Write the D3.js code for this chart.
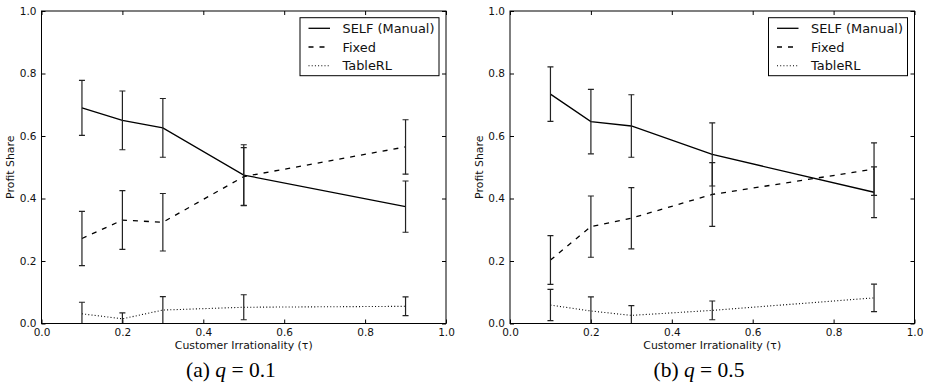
<!DOCTYPE html>
<html>
<head>
<meta charset="utf-8">
<script src="https://cdn.jsdelivr.net/npm/d3@7"></script>
<style>
  body { margin: 0; background: #fff; }
  svg { display: block; }
  .tick text { font-family: "DejaVu Sans", sans-serif; font-size: 10.5px; fill: #111; }
  .lbl { font-family: "DejaVu Sans", sans-serif; font-size: 10.9px; fill: #111; }
  .leg { font-family: "DejaVu Sans", sans-serif; font-size: 12.9px; fill: #111; }
  .cap { font-family: "Liberation Serif", "Times New Roman", serif; font-size: 21.5px; fill: #000; }
</style>
</head>
<body>
<svg width="930" height="385"></svg>
<script>
// customer irrationality values on the x axis
var taus = [0.1, 0.2, 0.3, 0.5, 0.9];
var tickVals = [0, 0.2, 0.4, 0.6, 0.8, 1.0];
var seriesNames = ["SELF (Manual)", "Fixed", "TableRL"];
var captions = ["(a) ", "(b) "];
var qValues = ["0.1", "0.5"];

// (a) q = 0.1
var selfA = [0.690, 0.650, 0.626, 0.475, 0.374];
var selfErrA = [0.088, 0.094, 0.094, 0.097, 0.082];
var fixedA = [0.272, 0.331, 0.324, 0.470, 0.565];
var fixedErrA = [0.087, 0.094, 0.092, 0.093, 0.087];
var tableA = [0.031, 0.015, 0.043, 0.052, 0.055];
var tableErrA = [0.037, 0.019, 0.043, 0.040, 0.030];

// (b) q = 0.5
var selfB = [0.734, 0.646, 0.632, 0.541, 0.420];
var selfErrB = [0.087, 0.103, 0.100, 0.101, 0.081];
var fixedB = [0.203, 0.310, 0.337, 0.413, 0.494];
var fixedErrB = [0.078, 0.098, 0.098, 0.102, 0.084];
var tableB = [0.059, 0.040, 0.026, 0.042, 0.082];
var tableErrB = [0.050, 0.045, 0.031, 0.030, 0.044];

var dashes = [null, "5,6", "1,2.2"];

var panels = [
  {left: 41.5, series: [[selfA, selfErrA], [fixedA, fixedErrA], [tableA, tableErrA]], capX: 231},
  {left: 510, series: [[selfB, selfErrB], [fixedB, fixedErrB], [tableB, tableErrB]], capX: 699}
];

var svg = d3.select("svg");
var W = 404.5, plotTop = 11, plotBottom = 323.5;

panels.forEach(function(p, pi) {
  var x = d3.scaleLinear().domain([0, 1]).range([p.left, p.left + W]);
  var y = d3.scaleLinear().domain([0, 1]).range([plotBottom, plotTop]);
  var g = svg.append("g");

  var clipId = "clip" + pi;
  g.append("clipPath").attr("id", clipId).append("rect")
    .attr("x", p.left).attr("y", plotTop).attr("width", W).attr("height", plotBottom - plotTop);

  // axes with inward ticks
  var fmt = d3.format(".1f");
  g.append("g").attr("transform", "translate(0," + plotBottom + ")")
    .call(d3.axisBottom(x).tickValues(tickVals).tickFormat(fmt).tickSizeInner(-4).tickSizeOuter(0).tickPadding(5));
  g.append("g").attr("transform", "translate(0," + plotTop + ")")
    .call(d3.axisTop(x).tickValues(tickVals).tickFormat("").tickSizeInner(-4).tickSizeOuter(0));
  g.append("g").attr("transform", "translate(" + p.left + ",0)")
    .call(d3.axisLeft(y).tickValues(tickVals).tickFormat(fmt).tickSizeInner(-4).tickSizeOuter(0).tickPadding(5));
  g.append("g").attr("transform", "translate(" + (p.left + W) + ",0)")
    .call(d3.axisRight(y).tickValues(tickVals).tickFormat("").tickSizeInner(-4).tickSizeOuter(0));
  g.selectAll(".domain").remove();
  g.selectAll(".tick line").attr("stroke", "#000").attr("stroke-width", 1);

  var plot = g.append("g").attr("clip-path", "url(#" + clipId + ")");

  p.series.forEach(function(s, si) {
    var vals = s[0], errs = s[1];
    var pts = taus.map(function(t, i) { return {x: t, y: vals[i], e: errs[i]}; });
    var line = d3.line().x(function(d) { return x(d.x); }).y(function(d) { return y(d.y); });
    plot.append("path").datum(pts)
      .attr("d", line).attr("fill", "none").attr("stroke", "#000")
      .attr("stroke-width", si === 2 ? 1.1 : 1.3)
      .attr("stroke-dasharray", dashes[si]);
    var eb = plot.selectAll(null).data(pts).enter().append("g")
      .attr("stroke", "#222").attr("stroke-width", 1.2);
    eb.append("line")
      .attr("x1", function(d) { return x(d.x); }).attr("x2", function(d) { return x(d.x); })
      .attr("y1", function(d) { return y(d.y - d.e); }).attr("y2", function(d) { return y(d.y + d.e); });
    [1, -1].forEach(function(sg) {
      eb.append("line")
        .attr("x1", function(d) { return x(d.x) - 3; }).attr("x2", function(d) { return x(d.x) + 3; })
        .attr("y1", function(d) { return y(d.y + sg * d.e); }).attr("y2", function(d) { return y(d.y + sg * d.e); });
    });
  });

  // frame
  g.append("rect").attr("x", p.left).attr("y", plotTop).attr("width", W).attr("height", plotBottom - plotTop)
    .attr("fill", "none").attr("stroke", "#000").attr("stroke-width", 1);

  // legend
  var lx = p.left + W - 146, ly = 17.7;
  var leg = g.append("g");
  leg.append("rect").attr("x", lx).attr("y", ly).attr("width", 139).attr("height", 58)
    .attr("fill", "#fff").attr("stroke", "#000").attr("stroke-width", 1);
  seriesNames.forEach(function(n, i) {
    var yy = ly + 10.6 + i * 18.7;
    leg.append("line").attr("x1", lx + 8.5).attr("x2", lx + 30).attr("y1", yy).attr("y2", yy)
      .attr("stroke", "#000").attr("stroke-width", i === 2 ? 1.1 : 1.3)
      .attr("stroke-dasharray", dashes[i]);
    leg.append("text").attr("class", "leg").attr("x", lx + 42.5).attr("y", yy).attr("dy", "0.36em").text(n);
  });

  // axis labels
  g.append("text").attr("class", "lbl").attr("text-anchor", "middle")
    .attr("x", p.left + W / 2).attr("y", 349)
    .text("Customer Irrationality (\u03C4)");
  g.append("text").attr("class", "lbl").attr("text-anchor", "middle")
    .attr("transform", "translate(" + (p.left - 27.5) + "," + ((plotTop + plotBottom) / 2) + ") rotate(-90)")
    .text("Profit Share");

  // caption
  var cap = g.append("text").attr("class", "cap").attr("text-anchor", "middle")
    .attr("x", p.capX).attr("y", 377);
  cap.append("tspan").text(captions[pi]);
  cap.append("tspan").attr("font-style", "italic").text("q");
  cap.append("tspan").text(" = " + qValues[pi]);
});
</script>
</body>
</html>
